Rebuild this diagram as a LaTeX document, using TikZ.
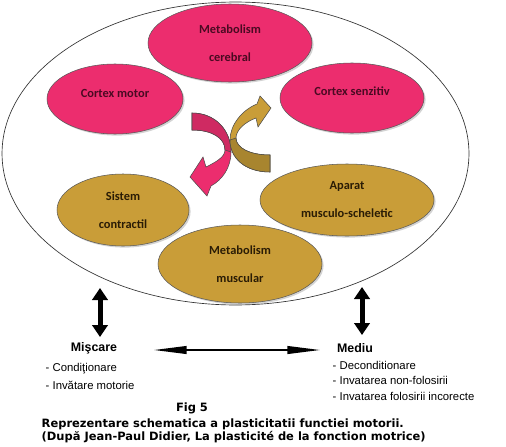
\documentclass[tikz,border=0pt]{standalone}
\usepackage{fontspec}
\setmainfont{Carlito}
\newfontfamily\arialfont{Liberation Sans}
\newfontfamily\verdanafont{DejaVu Sans}
\usetikzlibrary{shapes.geometric,arrows.meta,shadows}
\definecolor{pinkfill}{HTML}{EC2D6E}
\definecolor{pinkdark}{HTML}{CF2A62}
\definecolor{pinktext}{HTML}{4A0A22}
\definecolor{goldfill}{HTML}{C99D38}
\definecolor{golddark}{HTML}{A8852F}
\definecolor{goldtext}{HTML}{2A1C05}
\tikzset{
  pinkell/.style={ellipse,draw=black!65,line width=0.4pt,fill=pinkfill,text=pinktext,
    inner sep=0pt,align=center,font=\bfseries\fontsize{9.3}{21}\selectfont,
    drop shadow={shadow xshift=1.2pt,shadow yshift=-1.2pt,opacity=.35}},
  goldell/.style={pinkell,fill=goldfill,text=goldtext},
  bigarrow/.style={line width=3.75pt,{Triangle[length=9pt,width=11.5pt]}-{Triangle[length=9pt,width=11.5pt]}},
  longarrow/.style={line width=2.2pt,{Triangle[length=26pt,width=5.5pt]}-{Triangle[length=26pt,width=5.5pt]}},
  headtext/.style={font=\arialfont\bfseries\fontsize{9.3}{11}\selectfont},
  itemtext/.style={anchor=west,font=\arialfont\fontsize{8.5}{11}\selectfont},
  captext/.style={font=\verdanafont\bfseries\fontsize{8.6}{10}\selectfont},
}
\begin{document}
\begin{tikzpicture}[x=0.75pt,y=-0.75pt]
\useasboundingbox (0,0) rectangle (506,446);

%outer ellipse
\draw [black!80,line width=0.5pt] (235.5,153.5) ellipse [x radius=175.1pt,y radius=113.6pt];

%pink ellipses
\node [pinkell,minimum width=123pt,minimum height=58.5pt] (cerebral) at (230,43) {Metabolism\\cerebral};
\node [pinkell,minimum width=102pt,minimum height=52.5pt] (motor) at (115,99) {\raisebox{9pt}{Cortex motor}};
\node [pinkell,minimum width=108pt,minimum height=52.5pt] (senzitiv) at (352,98) {\raisebox{10pt}{Cortex senzitiv}};

%gold ellipses
\node [goldell,minimum width=99pt,minimum height=54pt] (contractil) at (123,210) {Sistem\\contractil};
\node [goldell,minimum width=130.5pt,minimum height=54pt] (aparat) at (347,200) {Aparat\\musculo-scheletic};
\node [goldell,minimum width=123pt,minimum height=58.5pt] (muscular) at (240,264) {Metabolism\\muscular};

%curved arrows
\filldraw [fill=pinkfill,draw=black!70,line width=0.4pt] (192,113) .. controls (215,113) and (231,130) .. (231,152)
  .. controls (231,168) and (222,180) .. (211,186) -- (207,196) -- (190,177) -- (203,157) -- (206,167)
  .. controls (216,162) and (225,157) .. (225,150) .. controls (225,138) and (212,130) .. (192,130) -- cycle;
\filldraw [fill=pinkdark,draw=black!70,line width=0.4pt] (192,113) .. controls (215,113) and (231,130) .. (231,152)
  -- (225,150) .. controls (225,138) and (212,130) .. (192,130) -- cycle;
\filldraw [fill=goldfill,draw=black!70,line width=0.4pt] (270,172) .. controls (245,172) and (230,158) .. (230,140)
  .. controls (230,125) and (242,110) .. (257,104) -- (260,96) -- (271,108) -- (258,127) -- (256,118)
  .. controls (245,122) and (236,130) .. (236,138) .. controls (236,148) and (250,155) .. (270,155) -- cycle;
\filldraw [fill=golddark,draw=black!70,line width=0.4pt] (270,172) .. controls (245,172) and (230,158) .. (230,140)
  -- (236,138) .. controls (236,148) and (250,155) .. (270,155) -- cycle;

%black arrows
\coordinate (mis top) at (100,288);
\coordinate (mis bot) at (100,337);
\coordinate (med top) at (362,287);
\coordinate (med bot) at (362,335);
\coordinate (link left) at (152,350);
\coordinate (link right) at (322,350);
\draw [bigarrow] (mis top) -- (mis bot);
\draw [bigarrow] (med top) -- (med bot);
\draw [longarrow] (link left) -- (link right);

%bottom labels
\node [headtext] (miscare) at (94,348) {Mişcare};
\node [headtext] (mediu) at (355,348) {Mediu};
\node [itemtext] (cond) at (41,369) {- Condiţionare};
\node [itemtext] (invmot) at (41,385) {- Invătare motorie};
\node [itemtext] (decond) at (328,365) {- Deconditionare};
\node [itemtext] (nonfol) at (328,380) {- Invatarea non-folosirii};
\node [itemtext] (incor) at (328,396) {- Invatarea folosirii incorecte};

%caption
\node [captext] (fig) at (192,408) {Fig 5};
\node [captext,anchor=west] (title) at (37,424) {Reprezentare schematica a plasticitatii functiei motorii.};
\node [captext,anchor=west] (source) at (37,437) {(După Jean-Paul Didier, La plasticité de la fonction motrice)};

\end{tikzpicture}
\end{document}
